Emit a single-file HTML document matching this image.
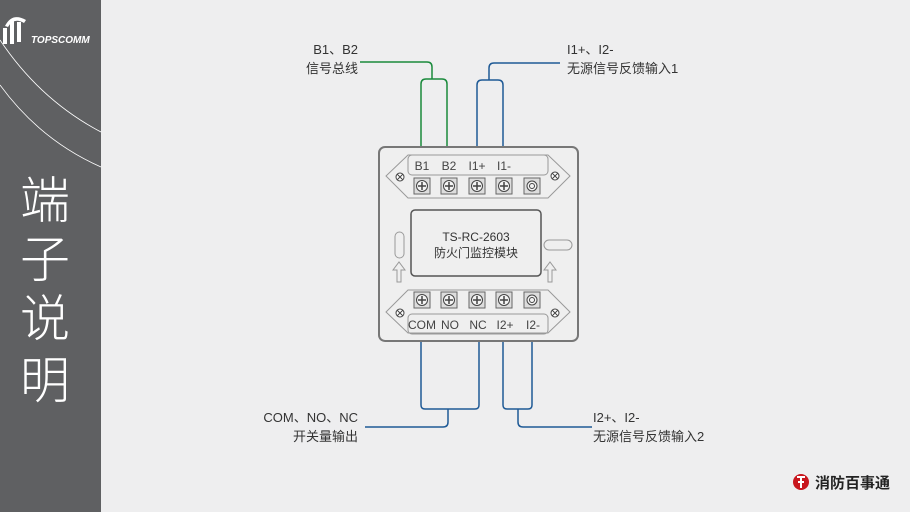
<!DOCTYPE html>
<html><head><meta charset="utf-8"><style>
html,body{margin:0;padding:0;width:910px;height:512px;overflow:hidden;background:#eeeeef;}
svg{display:block;font-family:"Liberation Sans","Noto Sans CJK SC",sans-serif;}
</style></head><body>
<svg width="910" height="512" viewBox="0 0 910 512">
<defs>
<g id="sc">
<rect x="-8" y="-8" width="16" height="16" fill="#ddd" stroke="#666"/>
<circle r="5.5" fill="#f4f4f4"/><path d="M-4 0 H4 M0 -4 V4" stroke-width="1.5"/>
</g>
</defs>
<rect width="910" height="512" fill="#eeeeef"/>
<rect width="101" height="512" fill="#5f6062"/>
<path d="M0 40 Q40 100 101 132" stroke="#fff" stroke-width="0.8" fill="none"/>
<path d="M0 85 Q40 140 101 167" stroke="#fff" stroke-width="0.8" fill="none"/>
<g fill="#fff">
<rect x="3" y="28" width="4" height="16"/><rect x="10" y="20" width="4" height="24"/><rect x="17" y="22" width="4" height="20"/>
<path d="M5 26 Q12 12 26 20 L24 23 Q14 17 8 27Z"/>
</g>
<text x="31" y="43" fill="#fff" font-size="10" font-weight="bold" font-style="italic">TOPSCOMM</text>
<g fill="#fff" font-size="50" font-family="'Noto Sans CJK SC',sans-serif" font-weight="300">
<text x="20" y="218">端</text><text x="20" y="277">子</text><text x="20" y="336">说</text><text x="20" y="398">明</text>
</g>
<g fill="none" stroke-width="1.5">
<path d="M360 62 H427 Q432 62 432 67 V79 M421 147 V84 Q421 79 426 79 H442 Q447 79 447 84 V147" stroke="#1a8a3c"/>
<path d="M560 63 H494 Q489 63 489 68 V80 M477 147 V85 Q477 80 482 80 H498 Q503 80 503 85 V147" stroke="#1f5a96"/>
<path d="M421 342 V405 Q421 409 425 409 H475 Q479 409 479 405 V342 M448 409 V422 Q448 427 443 427 H365" stroke="#1f5a96"/>
<path d="M503 342 V405 Q503 409 507 409 H528 Q532 409 532 405 V342 M518 409 V422 Q518 427 523 427 H592" stroke="#1f5a96"/>
</g>
<g font-size="13" fill="#333">
<text x="358" y="54" text-anchor="end">B1、B2</text>
<text x="358" y="73" text-anchor="end">信号总线</text>
<text x="567" y="54">I1+、I2-</text>
<text x="567" y="73">无源信号反馈输入1</text>
<text x="358" y="422" text-anchor="end">COM、NO、NC</text>
<text x="358" y="441" text-anchor="end">开关量输出</text>
<text x="593" y="422">I2+、I2-</text>
<text x="593" y="441">无源信号反馈输入2</text>
</g>
<rect x="379" y="147" width="199" height="194" rx="6" fill="#efefef" stroke="#777" stroke-width="2"/>
<g fill="none" stroke="#999" stroke-width="1">
<path d="M408 155 H548 L570 176 L548 198 H408 L386 176 Z"/>
<rect x="408" y="155" width="140" height="20" rx="4"/>
<path d="M408 290 H548 L570 312 L548 333 H408 L386 312 Z"/>
<rect x="408" y="314" width="140" height="20" rx="4"/>
<rect x="395" y="232" width="9" height="26" rx="4.5"/>
<rect x="544" y="240" width="28" height="10" rx="5"/>
<path d="M397 282 V270 H393 L399 262 L405 270 H401 V282 Z"/>
<path d="M548 282 V270 H544 L550 262 L556 270 H552 V282 Z"/>
</g>
<rect x="411" y="210" width="130" height="66" rx="4" fill="#efefef" stroke="#555" stroke-width="1.5"/>
<text x="476" y="241" font-size="12" fill="#333" text-anchor="middle">TS-RC-2603</text>
<text x="476" y="257" font-size="12" fill="#333" text-anchor="middle">防火门监控模块</text>
<g font-size="12" fill="#444" text-anchor="middle">
<text x="422" y="170">B1</text><text x="449" y="170">B2</text><text x="477" y="170">I1+</text><text x="504" y="170">I1-</text>
<text x="422" y="329">COM</text><text x="450" y="329">NO</text><text x="478" y="329">NC</text><text x="505" y="329">I2+</text><text x="533" y="329">I2-</text>
</g>
<g stroke="#444" stroke-width="1">
<use href="#sc" x="422" y="186"/><use href="#sc" x="449" y="186"/><use href="#sc" x="477" y="186"/><use href="#sc" x="504" y="186"/>
<use href="#sc" x="422" y="300"/><use href="#sc" x="449" y="300"/><use href="#sc" x="477" y="300"/><use href="#sc" x="504" y="300"/>
<rect x="524" y="178" width="16" height="16" fill="#ddd" stroke="#666"/><circle cx="532" cy="186" r="5" fill="#f4f4f4"/><circle cx="532" cy="186" r="2.5" fill="none"/>
<rect x="524" y="292" width="16" height="16" fill="#ddd" stroke="#666"/><circle cx="532" cy="300" r="5" fill="#f4f4f4"/><circle cx="532" cy="300" r="2.5" fill="none"/>
<g fill="#fff">
<circle cx="400" cy="177" r="4"/><circle cx="555" cy="176" r="4"/><circle cx="400" cy="313" r="4"/><circle cx="555" cy="313" r="4"/>
</g>
<path d="M397 174 L403 180 M403 174 L397 180 M552 173 L558 179 M558 173 L552 179 M397 310 L403 316 M403 310 L397 316 M552 310 L558 316 M558 310 L552 316"/>
</g>
<circle cx="801" cy="482" r="8" fill="#c8161d"/>
<path d="M797 477 H805 M801 477 V488 M798 482 H804" stroke="#fff" stroke-width="2"/>
<text x="815" y="488" font-size="15" font-weight="bold" fill="#222">消防百事通</text>
</svg>
</body></html>
